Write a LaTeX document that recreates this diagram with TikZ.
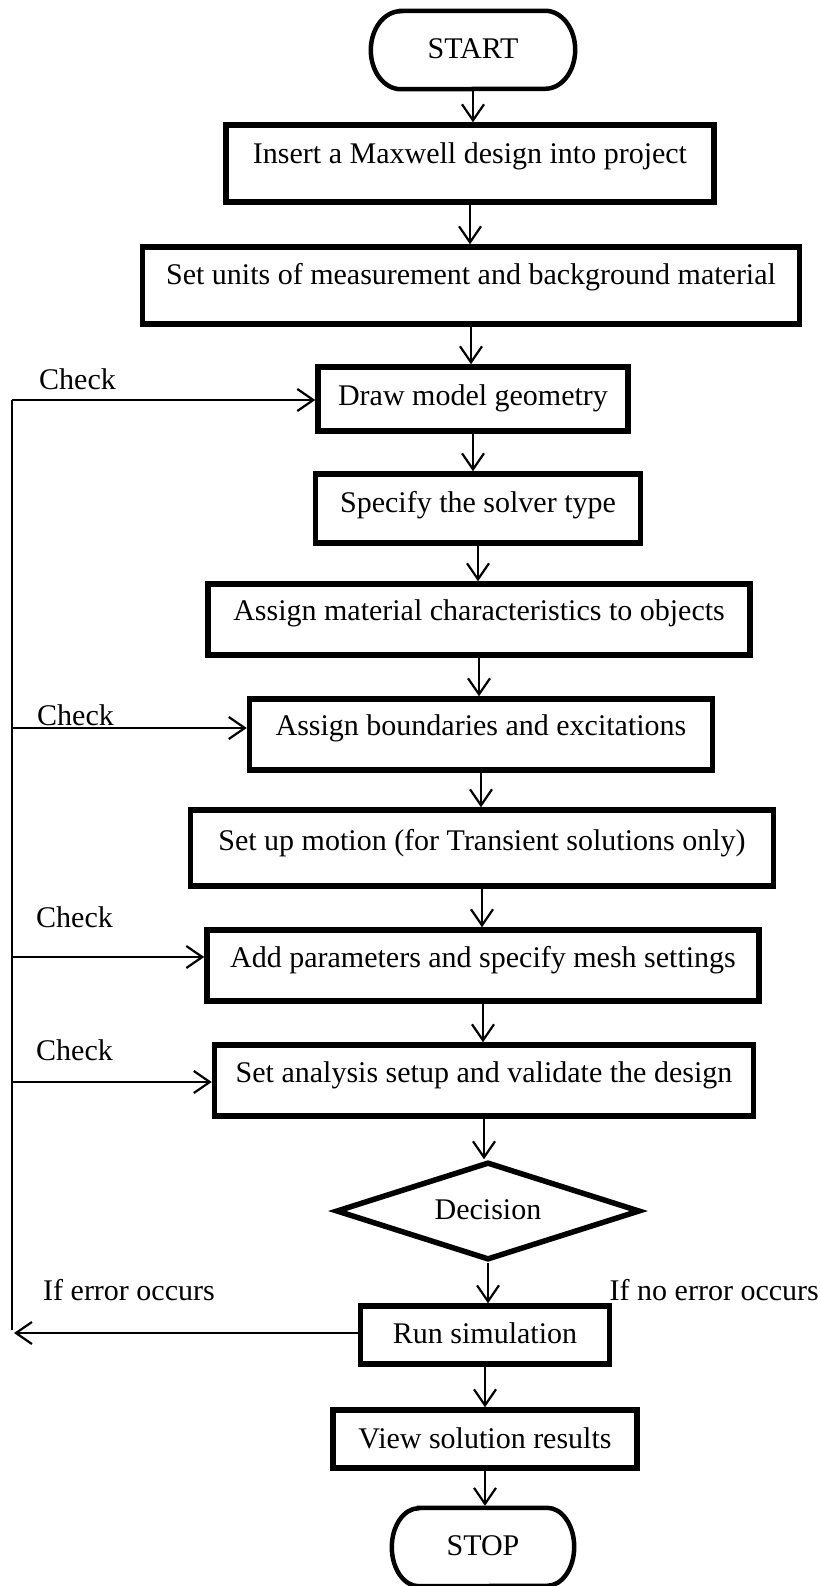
\documentclass[tikz,border=0pt]{standalone}
\usepackage{fontspec}
\setmainfont{Liberation Serif}
\usetikzlibrary{shapes.geometric,arrows.meta}
\begin{document}
\begin{tikzpicture}[x=1pt,y=-1pt,
  every node/.style={font=\fontsize{30pt}{36pt}\selectfont, inner sep=0pt},
  stepbox/.style={draw, rectangle, line width=5.5pt, text height=20pt, text depth=#1},
  term/.style={rectangle, text height=20pt, text depth=#1},
  termline/.style={line width=4.5pt},
  decbox/.style={draw, diamond, shape aspect=3, line width=5.5pt, text height=20pt, text depth=#1},
  arr/.style={line width=2.2pt, -{Straight Barb[length=16pt,width=22pt,line width=2.2pt]}},
  lnk/.style={line width=2.2pt},
  lbl/.style={anchor=base west}]
\useasboundingbox (0,0) rectangle (821,1586);

\node[term=2pt, minimum width=204pt, minimum height=78pt] (start) at (473,50) {START};
\draw[termline] ([xshift=30pt]start.north west) -- ([xshift=-30pt]start.north east)
  arc[start angle=90,end angle=-90,x radius=30pt,y radius=39pt]
  -- ([xshift=30pt]start.south west)
  arc[start angle=270,end angle=90,x radius=30pt,y radius=39pt] -- cycle;

\node[stepbox=19pt, minimum width=488pt, minimum height=77pt] (b1) at (470,163.5) {Insert a Maxwell design into project};
\node[stepbox=21pt, minimum width=657pt, minimum height=77pt] (b2) at (471,285.5) {Set units of measurement and background material};
\node[stepbox=8pt, minimum width=310pt, minimum height=64pt] (b3) at (473,399) {Draw model geometry};
\node[stepbox=13pt, minimum width=325pt, minimum height=69pt] (b4) at (478,508.5) {Specify the solver type};
\node[stepbox=19pt, minimum width=542pt, minimum height=71pt] (b5) at (479,619.5) {Assign material characteristics to objects};
\node[stepbox=19pt, minimum width=463pt, minimum height=71pt] (b6) at (481,734.5) {Assign boundaries and excitations};
\node[stepbox=16pt, minimum width=583pt, minimum height=76pt] (b7) at (482,848) {Set up motion (for Transient solutions only)};
\node[stepbox=17pt, minimum width=552pt, minimum height=71pt] (b8) at (483,965.5) {Add parameters and specify mesh settings};
\node[stepbox=17pt, minimum width=539pt, minimum height=71pt] (b9) at (484,1080.5) {Set analysis setup and validate the design};
\node[decbox=4pt, minimum width=304pt, minimum height=98pt] (dec) at (488,1211) {Decision};
\node[stepbox=4pt, minimum width=249pt, minimum height=58pt] (run) at (485,1335) {Run simulation};
\node[stepbox=2pt, minimum width=304pt, minimum height=58pt] (view) at (485,1439) {View solution results};
\node[term=4pt, minimum width=182pt, minimum height=78pt] (stop) at (483,1547) {STOP};
\draw[termline] ([xshift=27pt]stop.north west) -- ([xshift=-27pt]stop.north east)
  arc[start angle=90,end angle=-90,x radius=27pt,y radius=39pt]
  -- ([xshift=27pt]stop.south west)
  arc[start angle=270,end angle=90,x radius=27pt,y radius=39pt] -- cycle;

% main flow
\foreach \a/\b in {b1/b2, b2/b3, b3/b4, b4/b5, b5/b6, b6/b7, b7/b8, b8/b9, b9/dec, dec/run, run/view}
  \draw[arr] (\a.south) -- (\a.south |- \b.north);
\draw[arr] ([yshift=-2pt]start.south) -- (start.south |- b1.north);
\draw[arr] (view.south) -- ([yshift=2pt]view.south |- stop.north);

% feedback loop
\coordinate (c1) at (12,400);
\coordinate (c2) at (12,728);
\coordinate (c3) at (12,957);
\coordinate (c4) at (12,1082);
\coordinate (c5) at (12,1330);
\coordinate (e) at (14,1333);
\draw[lnk] (c1) -- (c5);
\draw[arr] (c1) -- (c1 -| b3.west);
\draw[arr] (c2) -- (c2 -| b6.west);
\draw[arr] (c3) -- (c3 -| b8.west);
\draw[arr] (c4) -- (c4 -| b9.west);
\draw[arr] (run.west |- e) -- (e);

% labels
\node[lbl] (k1) at (39,389) {Check};
\node[lbl] (k2) at (37,725) {Check};
\node[lbl] (k3) at (36,927) {Check};
\node[lbl] (k4) at (36,1060) {Check};
\node[lbl] (err) at (43,1300) {If error occurs};
\node[anchor=base east] (noerr) at (819,1300) {If no error occurs};
\end{tikzpicture}
\end{document}
